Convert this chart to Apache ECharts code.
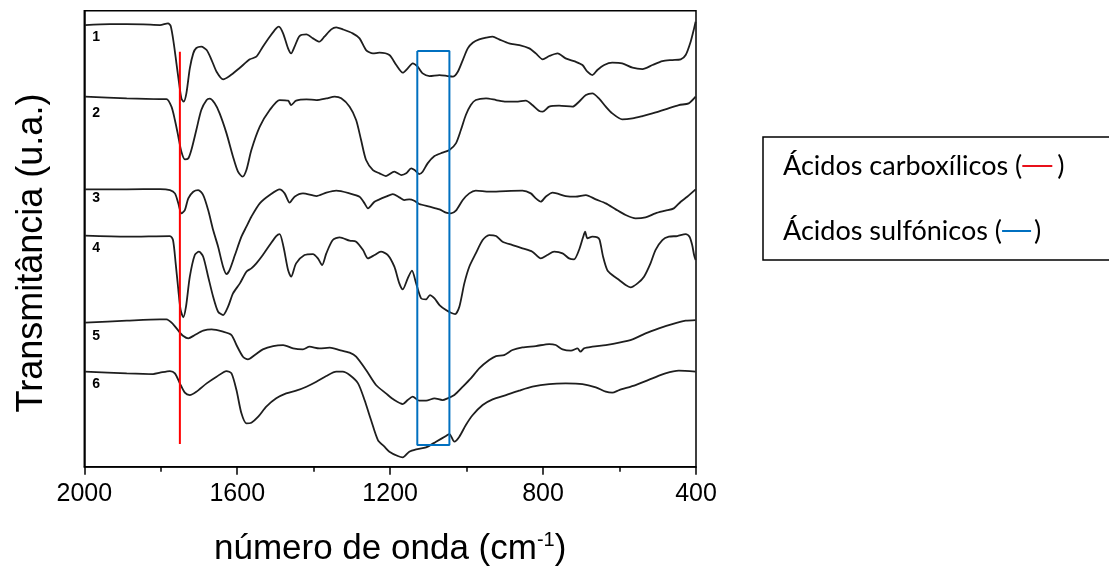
<!DOCTYPE html>
<html>
<head>
<meta charset="utf-8">
<script src="https://cdn.jsdelivr.net/npm/echarts@6/dist/echarts.min.js"></script>
<style>
  html, body { margin: 0; padding: 0; background: #fff; }
  #chart { width: 1109px; height: 566px; }
</style>
</head>
<body>
<div id="chart"></div>
<script>
// FTIR spectra, wavenumber (cm-1) and transmittance in arbitrary units (offset per sample)
const wn1 = [1998,1933,1846,1802,1781,1774,1766,1759,1752,1746,1740,1733,1724,1715,1707,1694,1680,1667,1654,1637,1620,1593,1567,1550,1533,1515,1498,1491,1480,1467,1459,1450,1437,1419,1402,1385,1372,1354,1341,1324,1298,1280,1263,1245,1228,1202,1184,1167,1154,1141,1128,1115,1097,1071,1050,1036,1023,1010,997,984,967,949,932,915,889,862,836,819,801,784,762,741,715,697,684,671,658,640,619,593,566,540,514,488,462,440,427,414,405,401];
const t1 = [132.5,132.8,132.7,132.5,133,132.2,127,121,115,110.5,109.5,112,119.5,124,125.6,126,125,122,118.5,116.2,117.2,119.7,122.2,123,126,129,131.5,132,130,125.5,124,126,129.2,129.7,128.5,127.5,129,131.2,131.8,131.2,130,128.5,125,124,124.2,123.5,120.5,118.2,119.5,121,120,118,117.2,117.5,117.2,117,118.5,122,125.5,127.2,128.2,128.7,129,128.2,127,126.5,125.5,124,122.2,123.2,124,122.5,121.5,120.5,118.5,117.5,119,120.5,121.2,121,119.7,119.3,120.5,121.7,122,122.2,123.5,127.5,131.5,133.5];

const wn2 = [1998,1889,1802,1785,1772,1763,1754,1746,1737,1728,1720,1707,1694,1680,1672,1659,1646,1628,1611,1598,1586,1576,1563,1541,1515,1489,1467,1459,1446,1419,1393,1367,1345,1328,1306,1289,1276,1263,1245,1228,1211,1189,1171,1158,1145,1136,1124,1115,1102,1084,1063,1045,1028,1015,1002,989,976,949,923,897,871,845,828,810,801,784,758,723,706,688,671,654,636,619,593,566,540,514,480,445,419,401];
const t2 = [111,110.5,110.3,110.3,108,104,99,94.5,92.2,92.5,95,101,107,110,110.4,109,106,100,93,88.5,87,89,95,102,107,110,109.8,108.5,109.8,110.2,110,110.5,111,110.5,108,104,98,92,89,88,87.2,88.5,87.5,88,89.5,89,87.8,88.5,91,93.2,94.2,95,97,101,105.5,108.5,110,110.5,110,109.5,109.5,109.8,108.5,106.7,106.5,108,108.3,108,109.5,111.5,112,110.5,108,106,104.2,104.5,105.2,106,107.2,108.5,109,111];

const wn3 = [1998,1889,1802,1776,1763,1754,1746,1737,1728,1715,1702,1689,1676,1663,1650,1637,1628,1620,1606,1589,1576,1563,1541,1515,1489,1476,1463,1450,1428,1393,1367,1341,1306,1280,1267,1258,1241,1228,1211,1193,1176,1163,1150,1137,1124,1097,1071,1054,1041,1028,1010,993,976,941,897,854,832,819,806,793,775,741,715,688,662,636,610,584,558,532,506,480,458,440,423,401];
const t3 = [83.2,83.2,83.3,83,82,79,76,77,80.5,82.5,83,81.5,77,71,66,60,57.8,59,63.5,69,72,75,79,81.5,83.2,82,79.2,81,82,81.2,82.2,82.8,82,81,79,77.5,79.5,80.2,81,81.8,80.8,80,80.2,79.8,78.8,78,77.2,76.2,76,76.8,80,82,82.8,82.5,82.7,82.8,82,80.5,79.5,81,82.2,81.2,81,81.5,80.2,79,77.2,75.5,74.5,74.8,76,76.8,77.5,79.5,81,83.2];

const wn4 = [1998,1889,1776,1768,1761,1754,1748,1741,1734,1724,1711,1700,1689,1676,1663,1650,1637,1624,1611,1593,1576,1563,1550,1533,1515,1498,1489,1479,1467,1459,1446,1424,1402,1389,1378,1367,1350,1332,1306,1289,1271,1258,1241,1224,1206,1189,1176,1167,1154,1143,1132,1119,1106,1096,1084,1071,1054,1041,1030,1019,1006,993,976,958,941,923,906,880,854,828,806,789,771,749,732,719,706,695,690,684,671,658,652,643,632,619,601,584,571,553,536,519,506,488,471,449,427,417,410,405,401];
const t4 = [69.3,69,69.2,68,61,53,47,44.8,48,57,63.5,64.5,63,57,51,46.5,45.5,48,52,55,58.5,59.5,61,63.5,66.5,69.2,69.8,66,59,57,61,63.5,63.8,62.5,60.5,64,68,68.8,67.8,67.5,65,62.5,63.5,64.5,63.5,60,55,53.2,56.5,58.8,55,50.5,50.2,51.5,50.5,48.5,47,46.2,45.8,48,55,60,64,68,69.5,69.2,67.5,66.5,65.5,64.5,62.5,63.5,64.5,64,62.5,62.2,65,69,70.5,68.5,69,68.8,68,63,59,57.5,56,54.5,53.8,55,57,61,65,68,69,69.2,69.8,69,66.5,63.5,62];

const wn5 = [1998,1889,1802,1785,1768,1754,1741,1728,1711,1689,1667,1637,1615,1602,1585,1572,1554,1533,1506,1480,1454,1428,1411,1385,1358,1332,1306,1289,1263,1237,1211,1189,1167,1154,1141,1124,1106,1084,1063,1050,1032,1010,989,967,941,923,902,880,854,819,784,767,749,727,710,702,693,671,636,601,566,532,497,462,427,401];
const t5 = [43.2,43.8,44.2,44.2,42.8,40.8,39.2,38.5,39.5,40.8,41.2,40.5,39.5,36.5,33,32.2,33.5,35.2,36.2,36.5,35.5,35.2,36,35.5,35.7,35,34.2,33,29,24.5,22,20,18.8,20,21,19.8,19.8,20.5,20,20.5,21.5,24,26.5,29.5,32,33.2,33.5,35,35.8,36.2,36.8,36.5,35.2,34.8,35.5,34.5,35.5,36,36.5,37.2,38.2,40,41.5,42.8,43.8,44];

const wn6 = [1998,1889,1820,1802,1776,1763,1750,1737,1724,1707,1680,1654,1628,1615,1602,1589,1576,1563,1545,1524,1498,1472,1446,1419,1393,1367,1341,1324,1306,1284,1267,1250,1232,1215,1202,1180,1167,1150,1132,1106,1080,1054,1045,1032,1019,1002,984,958,932,897,863,828,784,741,697,662,636,619,601,558,514,480,445,401];
const t6 = [28.5,28,27.8,28.2,28.7,28,25,22.2,21.5,22.5,25,27,28.7,28,23,16,13,13.2,15,18,20.5,22,22.8,24,25.5,27.2,28.5,28.5,27.5,25,20,14,8,6,4.5,3.2,2.8,4.5,5.2,5.8,7.5,9.2,9.8,7.5,9,12.5,15.5,18.5,20.2,21.5,22.8,24,24.8,25,24.8,23.8,22.5,22.2,23,24.5,26.5,28,28.8,28.5];

// sample numbers and where they sit (wavenumber, u.a.)
const sampleNames = ['1','2','3','4','5','6'];
const sampleLabelWn = 1969;
const sampleLabelT = [128.9, 106, 80.6, 65.6, 39.2, 24.8];

// marker for the carboxylic band (vertical line) and sulfonic band (box)
const carboxWn = 1750;
const carboxT = [124.5, 6.8];
const sulfonWn = [1129, 1045];
const sulfonT = [124.7, 6.5];

const xTicks = [2000, 1600, 1200, 800, 400];

const wns = [wn1, wn2, wn3, wn4, wn5, wn6];
const ts = [t1, t2, t3, t4, t5, t6];

const chart = echarts.init(document.getElementById('chart'));

const spectra = wns.map((w, i) => ({
  type: 'line',
  name: sampleNames[i],
  data: w.map((x, j) => [x, ts[i][j]]),
  showSymbol: false,
  smooth: 0.25,
  lineStyle: { color: '#1e1e1e', width: 1.8 },
  z: 3
}));

const carbox = {
  type: 'line',
  data: [[carboxWn, carboxT[0]], [carboxWn, carboxT[1]]],
  showSymbol: false,
  lineStyle: { color: '#ff0000', width: 2 },
  z: 4
};

const sulfon = {
  type: 'line',
  data: [
    [sulfonWn[0], sulfonT[0]], [sulfonWn[1], sulfonT[0]],
    [sulfonWn[1], sulfonT[1]], [sulfonWn[0], sulfonT[1]],
    [sulfonWn[0], sulfonT[0]]
  ],
  showSymbol: false,
  lineStyle: { color: '#0070c0', width: 2 },
  z: 4
};

chart.setOption({
  animation: false,
  grid: {
    left: 84.3, right: 413, top: 10.7, bottom: 99.3,
    outerBoundsMode: 'none',
    show: true, borderColor: '#000', borderWidth: 1.5, backgroundColor: 'transparent'
  },
  xAxis: {
    type: 'value',
    min: 400, max: 2000, interval: 400, inverse: true,
    axisLine: { show: true, lineStyle: { color: '#000', width: 1.5 } },
    axisTick: { show: true, inside: false, length: 8, lineStyle: { color: '#000', width: 1.5 } },
    minorTick: { show: true, splitNumber: 2, length: 5, lineStyle: { color: '#000', width: 1.5 } },
    splitLine: { show: false },
    axisLabel: {
      margin: 15, fontSize: 25, color: '#000', fontFamily: 'Liberation Sans, Arial',
      formatter: v => xTicks.includes(v) ? String(v) : ''
    },
    name: 'número de onda (cm{sup|-1})',
    nameLocation: 'middle',
    nameGap: 64,
    nameTextStyle: {
      fontSize: 35, color: '#000', fontFamily: 'Liberation Sans, Arial',
      rich: { sup: { fontSize: 20, color: '#000', fontFamily: 'Liberation Sans, Arial', verticalAlign: 'top', padding: [0, 0, 18, 0] } }
    }
  },
  yAxis: {
    type: 'value',
    min: 0, max: 136.8,
    axisLine: { show: true, lineStyle: { color: '#000', width: 1.5 } },
    axisTick: { show: false },
    axisLabel: { show: false },
    splitLine: { show: false }
  },
  series: [...spectra, carbox, sulfon]
});

// sample numbers placed in data coordinates
const numberLabels = sampleNames.map((n, i) => {
  const p = chart.convertToPixel({ xAxisIndex: 0, yAxisIndex: 0 }, [sampleLabelWn, sampleLabelT[i]]);
  return {
    type: 'text', x: p[0], y: p[1], z: 10,
    style: { text: n, font: 'bold 14px "Liberation Sans", Arial', fill: '#000', align: 'center', verticalAlign: 'middle' }
  };
});

// y-axis title, rotated
const yTitle = {
  type: 'text', x: 32, y: 253, rotation: Math.PI / 2, z: 10,
  style: { text: 'Transmitância (u.a.)', font: '36px "Liberation Sans", Arial', fill: '#000', align: 'center', verticalAlign: 'middle' }
};

const legendFont = '27px Lato, "Open Sans", sans-serif';
const legendBox = [
  { type: 'rect', shape: { x: 763, y: 137, width: 360, height: 123 }, style: { fill: '#fff', stroke: '#000', lineWidth: 1.5 }, z: 5 },
  {
    type: 'text', x: 783, y: 166, z: 6,
    style: {
      text: 'Ácidos carboxílicos ({r| }{g| })', font: legendFont, fill: '#000', verticalAlign: 'middle',
      rich: { r: { width: 30, height: 2, backgroundColor: '#e8101a' }, g: { width: 5 } }
    }
  },
  {
    type: 'text', x: 783, y: 231, z: 6,
    style: {
      text: 'Ácidos sulfónicos ({b| }{g| })', font: legendFont, fill: '#000', verticalAlign: 'middle',
      rich: { b: { width: 29, height: 2, backgroundColor: '#0070c0' }, g: { width: 3 } }
    }
  }
];

chart.setOption({ graphic: [...numberLabels, yTitle, ...legendBox] });
</script>
</body>
</html>
